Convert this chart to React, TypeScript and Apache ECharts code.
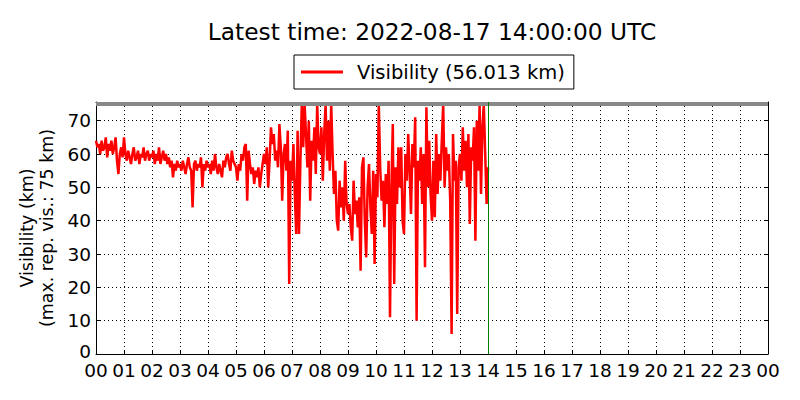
import React, { useEffect, useRef } from "react";
import * as echarts from "echarts";

const h00 = [64, 62, 63, 60, 64, 61, 62, 65, 59, 63, 61, 64, 60, 62, 65, 58, 54, 60, 62, 59];
const h01 = [65, 60, 58, 61, 59, 57, 60, 62, 58, 59, 61, 57, 60, 59, 62, 58, 60, 61, 58, 60];
const h02 = [59, 61, 57, 60, 58, 62, 57, 59, 61, 58, 60, 57, 59, 56, 58, 53, 57, 55, 58, 56];
const h03 = [57, 55, 58, 56, 54, 57, 59, 56, 55, 44, 57, 58, 55, 57, 56, 59, 50, 57, 55, 58];
const h04 = [56, 57, 54, 58, 55, 60, 56, 54, 57, 55, 53, 58, 56, 59, 60, 57, 55, 61, 58, 57];
const h05 = [56, 52, 57, 55, 60, 58, 62, 63, 46, 61, 57, 54, 56, 51, 55, 53, 56, 50, 54, 57];
const h06 = [60, 57, 62, 50, 58, 68, 63, 66, 58, 61, 56, 69, 62, 46, 60, 63, 55, 67, 21, 58];
const h07 = [52, 63, 48, 36, 67, 36, 58, 75, 62, 75, 66, 56, 70, 46, 64, 58, 68, 54, 75, 62];
const h08 = [60, 68, 52, 66, 75, 58, 70, 55, 75, 60, 48, 55, 40, 37, 52, 44, 50, 40, 58, 45];
const h09 = [42, 45, 38, 34, 52, 42, 46, 38, 47, 25, 56, 59, 40, 29, 50, 57, 44, 36, 55, 27];
const h10 = [54, 47, 75, 56, 46, 52, 38, 54, 45, 58, 11, 50, 69, 21, 56, 45, 62, 50, 62, 40];
const h11 = [36, 60, 52, 66, 55, 42, 63, 56, 71, 10, 58, 52, 62, 45, 60, 26, 74, 50, 64, 48];
const h12 = [40, 58, 41, 66, 48, 60, 52, 64, 75, 50, 62, 55, 60, 46, 6, 66, 52, 58, 12, 56];
const h13 = [60, 52, 68, 55, 64, 50, 66, 39, 62, 58, 68, 34, 70, 55, 75, 48, 68, 75, 60, 45];
const lastValue = 56.013;

const hours = [h00, h01, h02, h03, h04, h05, h06, h07, h08, h09, h10, h11, h12, h13];
const stepHours = 0.05;
const latestHour = 14;
const maxReportedVis = 75;

const xTickLabels = Array.from({ length: 25 }, (_, i) => String(i % 24).padStart(2, "0"));

const FONT = "DejaVu Sans";

export default function App() {
  const ref = useRef<HTMLDivElement>(null);

  useEffect(() => {
    document.body.style.margin = "0";
    if (!ref.current) return;
    const chart = echarts.init(ref.current, undefined, { renderer: "svg" });
    const flat = hours.flat();
    const data: [number, number][] = flat.map((v, i) => [i * stepHours, v]);
    data.push([latestHour, lastValue]);

    const axisCommon = {
      min: 0,
      max: 24,
      interval: 1,
      axisLine: { show: true, onZero: false, lineStyle: { color: "#000", width: 1 } },
      axisTick: { show: true, inside: true, length: 4, lineStyle: { color: "#000" } },
    };
    const yCommon = {
      min: 0,
      max: 75.6,
      interval: 10,
      axisLine: { show: true, onZero: false, lineStyle: { color: "#000", width: 1 } },
      axisTick: { show: true, inside: true, length: 4, lineStyle: { color: "#000" } },
    };

    chart.setOption({
      animation: false,
      backgroundColor: "#fff",
      textStyle: { fontFamily: FONT },
      title: {
        text: "Latest time: 2022-08-17 14:00:00 UTC",
        left: 427,
        top: 15,
        textAlign: "center",
        textStyle: { fontFamily: FONT, fontSize: 23.3, fontWeight: "normal", color: "#000" },
      },
      legend: {
        left: 294,
        top: 55,
        padding: [7, 9, 7, 7],
        borderColor: "#000",
        borderWidth: 1,
        borderRadius: 0,
        icon: "rect",
        itemWidth: 42,
        itemHeight: 3,
        textStyle: { fontFamily: FONT, fontSize: 19.5, color: "#000", padding: [0, 0, 0, 9] },
        data: [`Visibility (${lastValue.toFixed(3)} km)`],
      },
      grid: { left: 96, right: 32, top: 102, bottom: 46, containLabel: false },
      xAxis: [
        {
          type: "value",
          position: "bottom",
          ...axisCommon,
          axisLabel: {
            color: "#000",
            fontFamily: FONT,
            fontSize: 18.5,
            margin: 7,
            formatter: (v: number) => xTickLabels[Math.round(v)] ?? "",
          },
          splitLine: { show: true, lineStyle: { color: "#000", type: [1, 3], width: 1 } },
        },
        {
          type: "value",
          position: "top",
          ...axisCommon,
          axisLabel: { show: false },
          splitLine: { show: false },
        },
      ],
      yAxis: [
        {
          type: "value",
          position: "left",
          ...yCommon,
          name: "Visibility (km)\n(max. rep. vis.: 75 km)",
          nameLocation: "middle",
          nameGap: 36,
          nameRotate: 90,
          nameTextStyle: { fontFamily: FONT, fontSize: 17.4, color: "#000", lineHeight: 20 },
          axisLabel: {
            color: "#000",
            fontFamily: FONT,
            fontSize: 18.5,
            margin: 5,
            showMaxLabel: false,
            formatter: (v: number) => (v === 0 ? "{z|0}" : v % 10 === 0 ? String(v) : ""),
            rich: {
              z: { fontFamily: FONT, fontSize: 18.5, color: "#000", padding: [0, 0, 5, 0] },
            },
          },
          splitLine: { show: true, lineStyle: { color: "#000", type: [1, 3], width: 1 } },
        },
        {
          type: "value",
          position: "right",
          ...yCommon,
          axisLabel: { show: false },
          splitLine: { show: false },
        },
      ],
      series: [
        {
          name: `Visibility (${lastValue.toFixed(3)} km)`,
          type: "line",
          data,
          showSymbol: false,
          symbol: "none",
          lineStyle: { color: "#ff0000", width: 2.5 },
          itemStyle: { color: "#ff0000" },
          clip: true,
          markLine: {
            silent: true,
            symbol: "none",
            label: { show: false },
            animation: false,
            data: [
              { yAxis: maxReportedVis, lineStyle: { color: "#888888", width: 4, type: "solid" } },
              { xAxis: latestHour, lineStyle: { color: "#008000", width: 1, type: "solid" } },
            ],
          },
        },
      ],
    });
    return () => chart.dispose();
  }, []);

  return <div ref={ref} style={{ width: 800, height: 400 }} />;
}
